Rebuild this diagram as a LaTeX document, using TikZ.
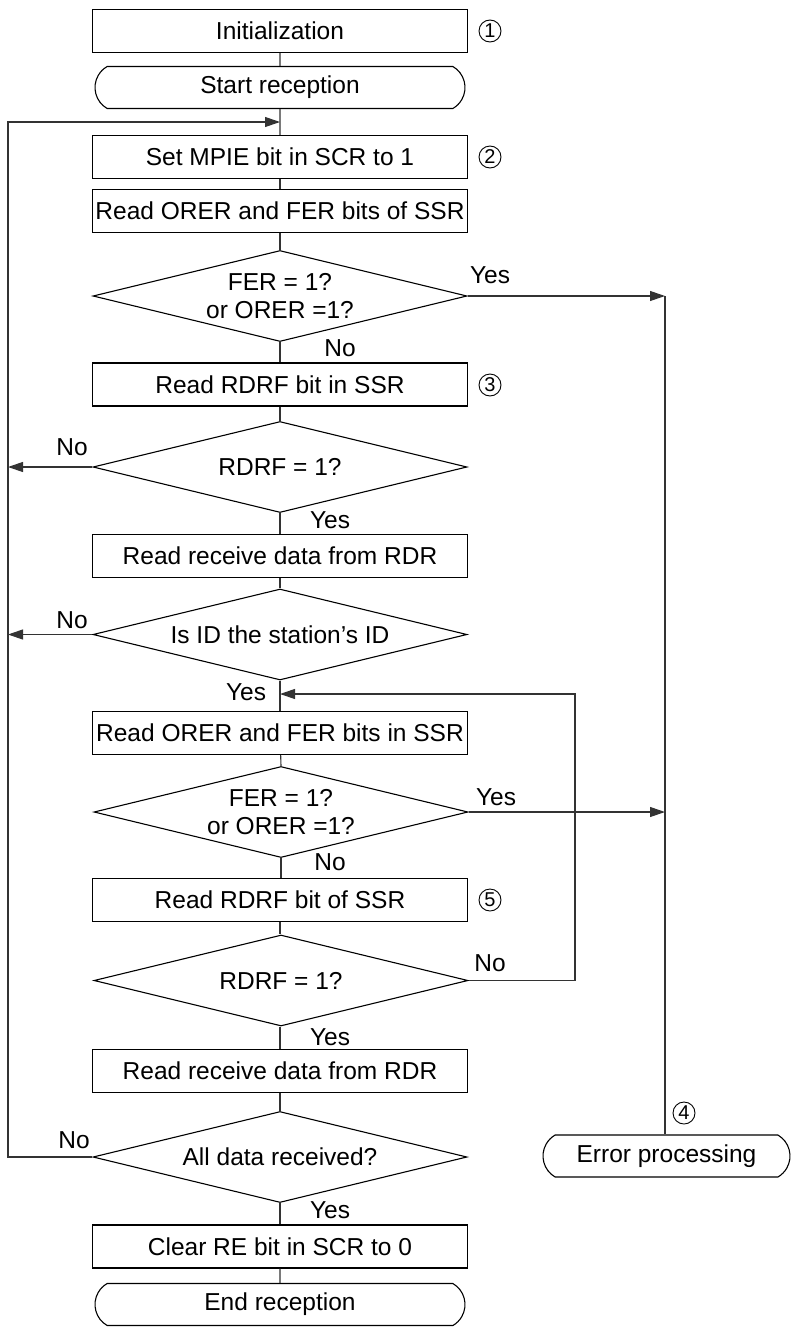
\documentclass[tikz,border=0pt]{standalone}
\usepackage{fontspec}
\setmainfont{Liberation Sans}
\usetikzlibrary{shapes.geometric,shapes.misc,arrows.meta,calc}
\begin{document}
\begin{tikzpicture}[x=1pt,y=-1pt,
  every node/.style={font=\fontsize{24.5}{28}\selectfont},
  proc/.style={draw=black,line width=1.1pt,rectangle,minimum width=375pt,minimum height=43pt,inner sep=0pt},
  term/.style={draw=black,line width=1.1pt,rounded rectangle,rounded rectangle arc length=120,minimum width=370pt,minimum height=42pt,inner sep=0pt},
  dec/.style={draw=black,line width=1.1pt,diamond,aspect=4,minimum width=374pt,minimum height=91pt,inner sep=0pt,align=center},
  conn/.style={draw=black!80,line width=1.1pt},
  arr/.style={conn,-{Triangle[length=15pt,width=10pt]}},
  num/.style={draw=black,line width=0.9pt,circle,minimum size=22pt,inner sep=0pt,font=\fontsize{20}{20}\selectfont},
  lbl/.style={inner sep=0pt}]
\useasboundingbox (0,0) rectangle (792,1328);

\node[proc] (init) at (280,31) {Initialization};
\node[term] (start) at (280,87.5) {Start reception};
\node[proc] (set) at (280,157) {Set MPIE bit in SCR to 1};
\node[proc] (readoe) at (280,211) {Read ORER and FER bits of SSR};
\node[dec] (d1) at (280,296) {FER = 1?\\or ORER =1?};
\node[proc] (rdrf1) at (280,384.5) {Read RDRF bit in SSR};
\node[dec] (d2) at (280,467) {RDRF = 1?};
\node[proc] (rdr1) at (280,556) {Read receive data from RDR};
\node[dec] (d3) at (280,634.5) {Is ID the station’s ID};
\node[proc] (readoe2) at (280,733) {Read ORER and FER bits in SSR};
\node[dec] (d4) at (281,812) {FER = 1?\\or ORER =1?};
\node[proc] (rdrf2) at (280,900) {Read RDRF bit of SSR};
\node[dec] (d5) at (281,980.5) {RDRF = 1?};
\node[proc] (rdr2) at (280,1071) {Read receive data from RDR};
\node[dec] (d6) at (280,1157) {All data received?};
\node[proc] (clear) at (280,1246.5) {Clear RE bit in SCR to 0};
\node[term] (end) at (280,1304.5) {End reception};
\node[term,minimum width=247pt] (err) at (666.5,1156) {Error processing};

\node[num] (n1) at (490,31) {1};
\node[num] (n2) at (490,157) {2};
\node[num] (n3) at (490,385) {3};
\node[num] (n5) at (490,900) {5};
\node[num] (n4) at (684,1113) {4};

\coordinate (lx) at (8,0);
\coordinate (rx) at (665,0);
\coordinate (mx) at (575,0);
\coordinate (jtop) at (280,122);
\coordinate (jmid) at (280,694);

\draw[conn] (init) -- (start);
\draw[conn] (start) -- (set);
\draw[conn] (set) -- (readoe);
\draw[conn] (readoe) -- (d1);
\draw[conn] (d1) -- (rdrf1);
\draw[conn] (rdrf1) -- (d2);
\draw[conn] (d2) -- (rdr1);
\draw[conn] (rdr1) -- (d3);
\draw[conn] (d3) -- (readoe2);
\draw[conn] (readoe2) -- (d4.north);
\draw[conn] (d4.south) -- (rdrf2.north -| d4.south);
\draw[conn] (rdrf2) -- (d5.north -| rdrf2);
\draw[conn] (d5.south -| rdr2) -- (rdr2);
\draw[conn] (rdr2) -- (d6);
\draw[conn] (d6) -- (clear);
\draw[conn] (clear) -- (end);

\draw[arr] (d2.west) -- (lx |- d2.west);
\draw[arr] (d3.west) -- (lx |- d3.west);
\draw[arr] (d6.west) -- (lx |- d6.west) -- (lx |- jtop) -- (jtop);
\draw[arr] (d1.east) -- (rx |- d1.east);
\draw[arr] (d4.east) -- (rx |- d4.east);
\draw[conn] (rx |- d1.east) -- (rx |- err.north);
\draw[arr] (d5.east) -- (mx |- d5.east) -- (mx |- jmid) -- (jmid);

\node[lbl] at (490,275) {Yes};
\node[lbl] at (340,348) {No};
\node[lbl] at (72,447) {No};
\node[lbl] at (330,520) {Yes};
\node[lbl] at (72,620) {No};
\node[lbl] at (246,692) {Yes};
\node[lbl] at (496,797) {Yes};
\node[lbl] at (330,862) {No};
\node[lbl] at (490,963) {No};
\node[lbl] at (330,1037) {Yes};
\node[lbl] at (74,1140) {No};
\node[lbl] at (330,1210) {Yes};
\end{tikzpicture}
\end{document}
